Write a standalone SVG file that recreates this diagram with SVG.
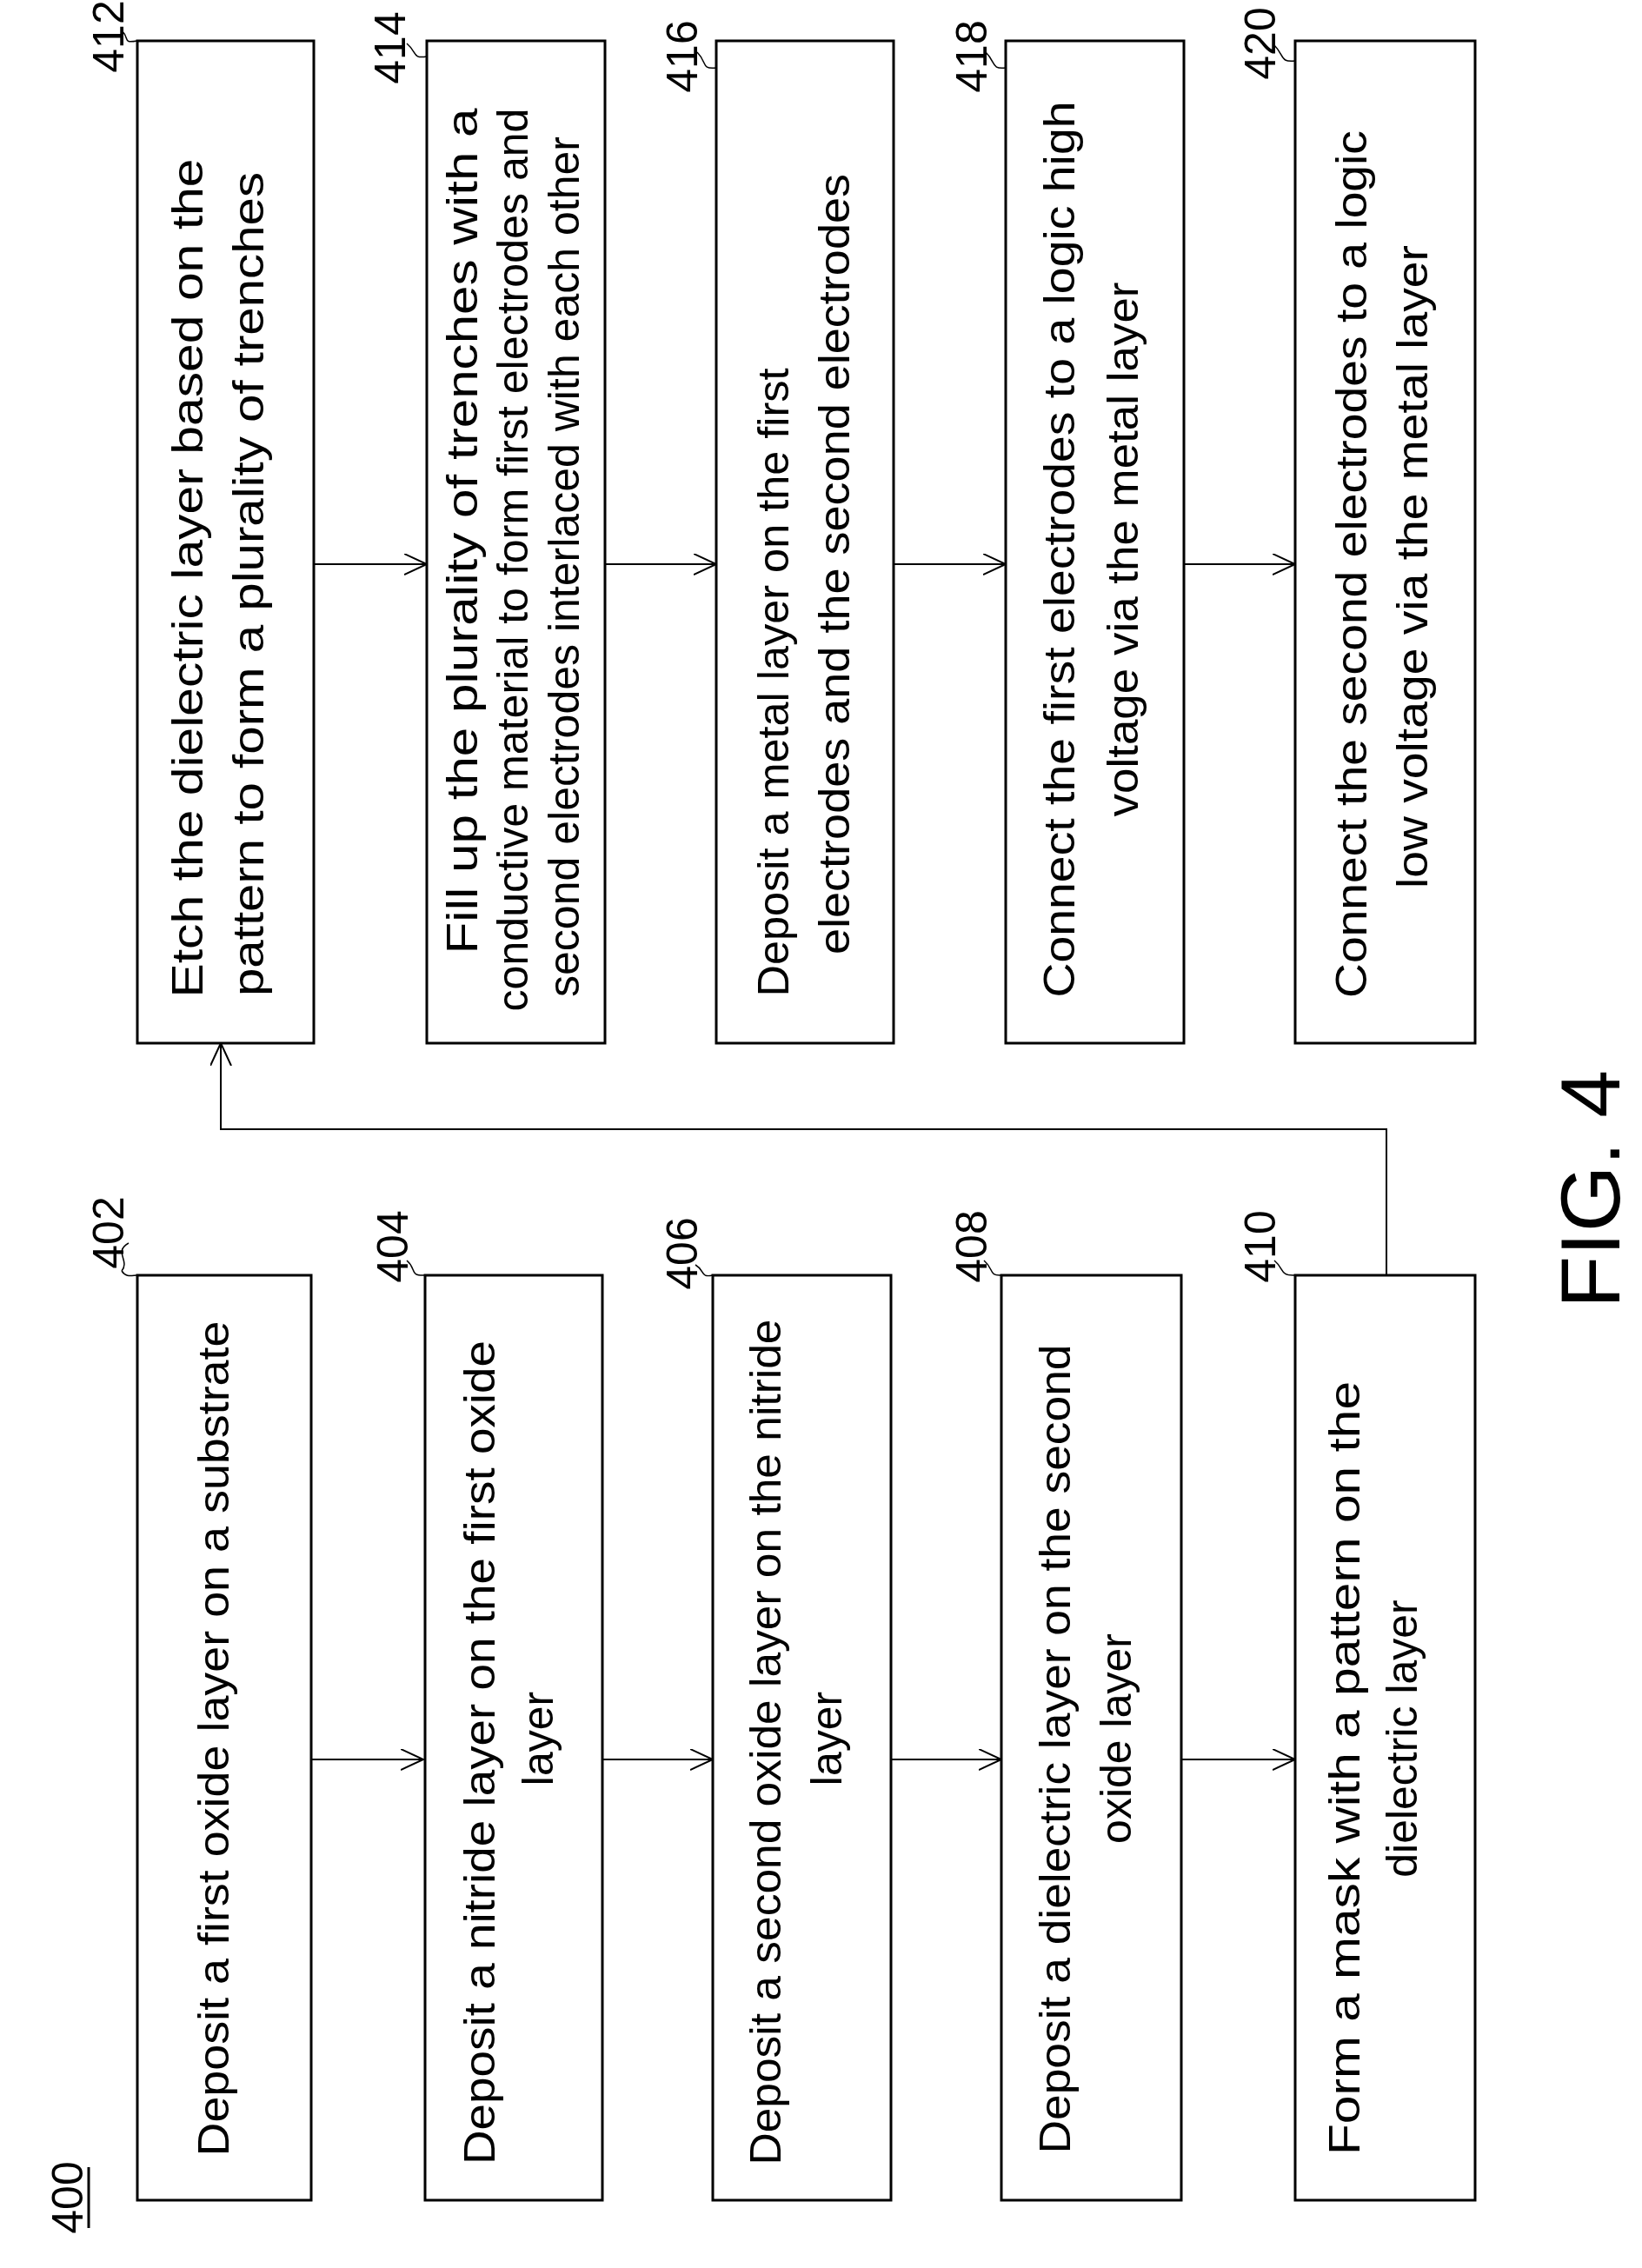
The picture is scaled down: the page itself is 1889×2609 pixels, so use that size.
<svg xmlns="http://www.w3.org/2000/svg" width="1889" height="2609" viewBox="0 0 1889 2609">
<style>
.box{fill:#fff;stroke:#000;stroke-width:3}
.t{font-family:"Liberation Sans",Arial,sans-serif;font-size:50px;fill:#000;text-anchor:middle;dominant-baseline:central}
.n{font-family:"Liberation Sans",Arial,sans-serif;font-size:50px;fill:#000;text-anchor:middle;dominant-baseline:central}
.ld{fill:none;stroke:#000;stroke-width:1.5}
.c{fill:none;stroke:#000;stroke-width:2}
</style>
<defs>
<marker id="ah" markerWidth="30" markerHeight="30" refX="26" refY="12" orient="auto" markerUnits="userSpaceOnUse">
<path d="M0,0 L26,12 L0,24" fill="none" stroke="#000" stroke-width="2"/>
</marker>
</defs>
<rect width="1889" height="2609" fill="#fff"/>
<g id="connectors">
<line class="c" x1="358" y1="2024" x2="487" y2="2024" marker-end="url(#ah)"/>
<line class="c" x1="693" y1="2024" x2="820" y2="2024" marker-end="url(#ah)"/>
<line class="c" x1="1025" y1="2024" x2="1152" y2="2024" marker-end="url(#ah)"/>
<line class="c" x1="1359" y1="2024" x2="1490" y2="2024" marker-end="url(#ah)"/>
<line class="c" x1="361" y1="649" x2="491" y2="649" marker-end="url(#ah)"/>
<line class="c" x1="696" y1="649" x2="824" y2="649" marker-end="url(#ah)"/>
<line class="c" x1="1028" y1="649" x2="1157" y2="649" marker-end="url(#ah)"/>
<line class="c" x1="1362" y1="649" x2="1490" y2="649" marker-end="url(#ah)"/>
<polyline class="c" points="1595,1467 1595,1299 254,1299 254,1200" marker-end="url(#ah)"/>
</g>
<g id="label400"><text class="n" transform="translate(78,2528) rotate(-90)">400</text><line x1="102" y1="2493" x2="102" y2="2563" stroke="#000" stroke-width="3"/></g>
<g id="n402"><rect class="box" x="158" y="1467" width="200" height="1064"/>
<text class="t" transform="translate(246,2000) rotate(-90)" textLength="961" lengthAdjust="spacingAndGlyphs">Deposit a first oxide layer on a substrate</text>
<text class="n" transform="translate(125,1418) rotate(-90)">402</text><path class="ld" d="M140,1462 C150,1450 130,1440 148,1430 M140,1462 C145,1470 152,1467 158,1467"/></g>
<g id="n404"><rect class="box" x="489" y="1467" width="204" height="1064"/>
<text class="t" transform="translate(552,2016) rotate(-90)" textLength="948" lengthAdjust="spacingAndGlyphs">Deposit a nitride layer on the first oxide</text>
<text class="t" transform="translate(619,2000) rotate(-90)">layer</text>
<text class="n" transform="translate(452,1434) rotate(-90)">404</text><path class="ld" d="M468,1450 C480,1460 470,1468 489,1467"/></g>
<g id="n406"><rect class="box" x="820" y="1467" width="205" height="1064"/>
<text class="t" transform="translate(881,2004) rotate(-90)" textLength="973" lengthAdjust="spacingAndGlyphs">Deposit a second oxide layer on the nitride</text>
<text class="t" transform="translate(951,2000) rotate(-90)">layer</text>
<text class="n" transform="translate(785,1442) rotate(-90)">406</text><path class="ld" d="M800,1455 C812,1462 805,1470 820,1467"/></g>
<g id="n408"><rect class="box" x="1152" y="1467" width="207" height="1064"/>
<text class="t" transform="translate(1214,2012) rotate(-90)" textLength="931" lengthAdjust="spacingAndGlyphs">Deposit a dielectric layer on the second</text>
<text class="t" transform="translate(1284,2000) rotate(-90)">oxide layer</text>
<text class="n" transform="translate(1118,1434) rotate(-90)">408</text><path class="ld" d="M1132,1450 C1144,1460 1137,1468 1152,1467"/></g>
<g id="n410"><rect class="box" x="1490" y="1467" width="207" height="1064"/>
<text class="t" transform="translate(1547,2034) rotate(-90)" textLength="890" lengthAdjust="spacingAndGlyphs">Form a mask with a pattern on the</text>
<text class="t" transform="translate(1613,2000) rotate(-90)">dielectric layer</text>
<text class="n" transform="translate(1450,1434) rotate(-90)">410</text><path class="ld" d="M1466,1450 C1478,1460 1472,1468 1490,1467"/></g>
<g id="n412"><rect class="box" x="158" y="47" width="203" height="1153"/>
<text class="t" transform="translate(216,665) rotate(-90)" textLength="965" lengthAdjust="spacingAndGlyphs">Etch the dielectric layer based on the</text>
<text class="t" transform="translate(286,672) rotate(-90)" textLength="948" lengthAdjust="spacingAndGlyphs">pattern to form a plurality of trenches</text>
<text class="n" transform="translate(125,42) rotate(-90)">412</text><path class="ld" d="M140,35 C150,45 140,50 158,47"/></g>
<g id="n414"><rect class="box" x="491" y="47" width="205" height="1153"/>
<text class="t" transform="translate(532,611) rotate(-90)" textLength="973" lengthAdjust="spacingAndGlyphs">Fill up the plurality of trenches with a</text>
<text class="t" transform="translate(590,644) rotate(-90)" textLength="1039" lengthAdjust="spacingAndGlyphs">conductive material to form first electrodes and</text>
<text class="t" transform="translate(649,652) rotate(-90)" textLength="990" lengthAdjust="spacingAndGlyphs">second electrodes interlaced with each other</text>
<text class="n" transform="translate(449,55) rotate(-90)">414</text><path class="ld" d="M468,50 C480,60 474,68 491,65"/></g>
<g id="n416"><rect class="box" x="824" y="47" width="204" height="1153"/>
<text class="t" transform="translate(890,785) rotate(-90)" textLength="723" lengthAdjust="spacingAndGlyphs">Deposit a metal layer on the first</text>
<text class="t" transform="translate(960,649) rotate(-90)" textLength="898" lengthAdjust="spacingAndGlyphs">electrodes and the second electrodes</text>
<text class="n" transform="translate(785,65) rotate(-90)">416</text><path class="ld" d="M802,60 C814,72 806,80 824,78"/></g>
<g id="n418"><rect class="box" x="1157" y="47" width="205" height="1153"/>
<text class="t" transform="translate(1219,632) rotate(-90)" textLength="1031" lengthAdjust="spacingAndGlyphs">Connect the first electrodes to a logic high</text>
<text class="t" transform="translate(1292,632) rotate(-90)" textLength="615" lengthAdjust="spacingAndGlyphs">voltage via the metal layer</text>
<text class="n" transform="translate(1118,65) rotate(-90)">418</text><path class="ld" d="M1134,60 C1146,72 1140,80 1157,78"/></g>
<g id="n420"><rect class="box" x="1490" y="47" width="207" height="1153"/>
<text class="t" transform="translate(1555,649) rotate(-90)" textLength="998" lengthAdjust="spacingAndGlyphs">Connect the second electrodes to a logic</text>
<text class="t" transform="translate(1625,652) rotate(-90)" textLength="740" lengthAdjust="spacingAndGlyphs">low voltage via the metal layer</text>
<text class="n" transform="translate(1450,50) rotate(-90)">420</text><path class="ld" d="M1466,52 C1478,64 1472,72 1490,70"/></g>
<g id="fig"><text class="t" style="font-size:96px" transform="translate(1829,1368) rotate(-90)" textLength="274" lengthAdjust="spacingAndGlyphs">FIG. 4</text></g>
</svg>
